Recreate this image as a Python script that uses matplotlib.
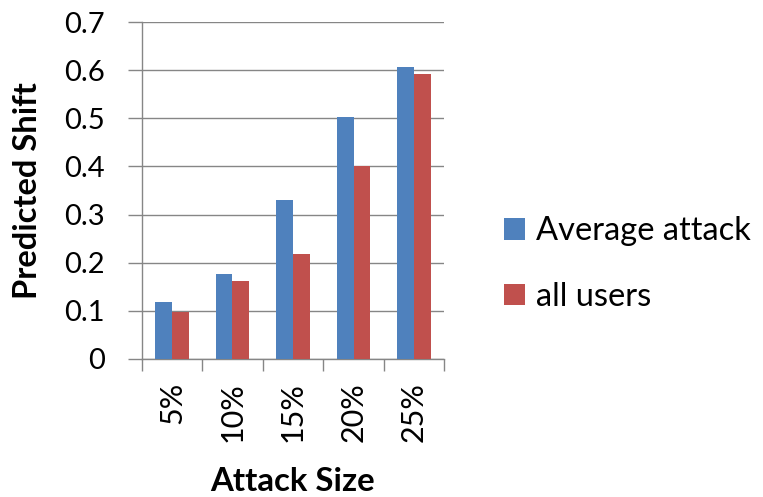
import matplotlib.pyplot as plt
import numpy as np

categories = ["5%", "10%", "15%", "20%", "25%"]
average_attack = [0.118, 0.177, 0.331, 0.503, 0.606]
all_users = [0.097, 0.162, 0.217, 0.401, 0.592]
y_ticks = [0, 0.1, 0.2, 0.3, 0.4, 0.5, 0.6, 0.7]
y_tick_labels = ["0", "0.1", "0.2", "0.3", "0.4", "0.5", "0.6", "0.7"]

plt.rcParams["font.family"] = ["Lato", "DejaVu Sans"]

GRID = "#868686"
BLUE = "#4F81BD"
RED = "#C0504D"

fig = plt.figure(figsize=(7.63, 4.97), dpi=100)
ax = fig.add_axes([0.1857, 0.2783, 0.3966, 0.6768])

x = np.arange(len(categories))
w = 0.275
ax.bar(x - w / 2, average_attack, w, color=BLUE, label="Average attack", zorder=3)
ax.bar(x + w / 2, all_users, w, color=RED, label="all users", zorder=3)

ax.set_xlim(-0.5, len(categories) - 0.5)
ax.set_ylim(0, 0.7)

# horizontal gridlines, Excel style axes
ax.set_yticks(y_ticks, y_tick_labels)
ax.yaxis.grid(True, color=GRID, linewidth=1.0)
ax.set_axisbelow(True)
for side in ("top", "right"):
    ax.spines[side].set_visible(False)
for side in ("left", "bottom"):
    ax.spines[side].set_color(GRID)
    ax.spines[side].set_linewidth(1.0)

ax.tick_params(axis="y", length=9.9, width=1.0, color=GRID, pad=16.5, labelsize=21)

# category labels in the middle, tick marks on the boundaries
ax.set_xticks(x, categories, rotation=90)
ax.set_xticks(np.arange(-0.5, len(categories), 1), minor=True)
ax.tick_params(axis="x", which="major", length=0, pad=16.8, labelsize=22)
ax.tick_params(axis="x", which="minor", length=8.8, width=1.0, color=GRID)

ax.set_ylabel("Predicted Shift", fontsize=23.5, fontweight="bold", va="center")
ax.yaxis.set_label_coords(-0.376, 0.5)
ax.set_xlabel("Attack Size", fontsize=23.7, fontweight="bold", va="center")
ax.xaxis.set_label_coords(0.5, -0.364)

fig.legend(
    loc="center left",
    bbox_to_anchor=(0.6606, 0.4688),
    frameon=False,
    fontsize=23.5,
    handlelength=0.64,
    handleheight=0.64,
    handletextpad=0.34,
    labelspacing=1.09,
    borderpad=0,
    borderaxespad=0,
)

fig.savefig("out.png", dpi=100)
